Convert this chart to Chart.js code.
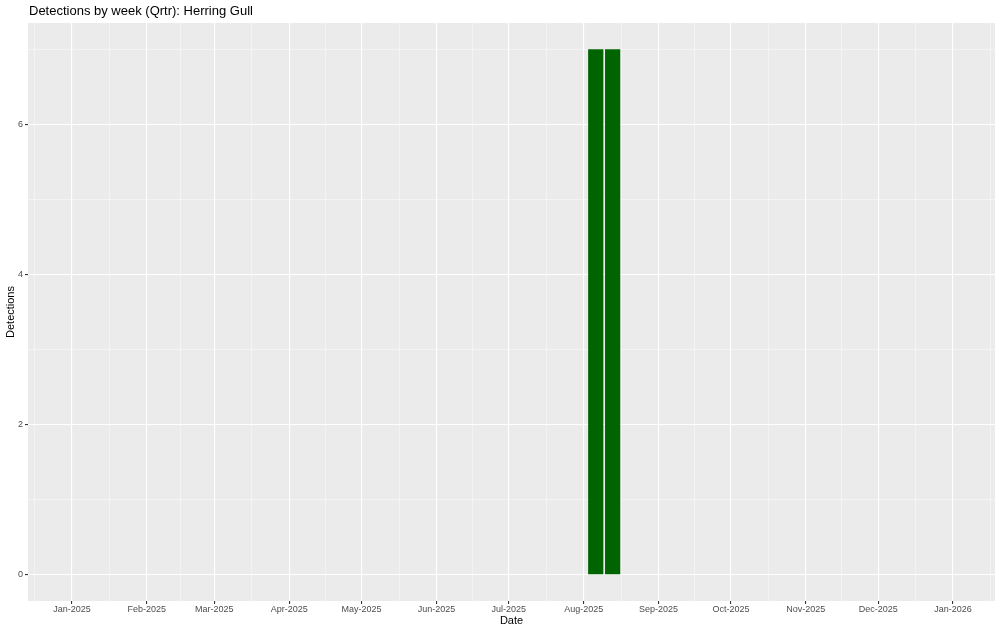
<!DOCTYPE html>
<html>
<head>
<meta charset="utf-8">
<script src="https://cdn.jsdelivr.net/npm/chart.js@4/dist/chart.umd.min.js"></script>
<style>
  html, body { margin: 0; padding: 0; background: #ffffff; }
  #wrap { width: 1000px; height: 632px; position: relative; }
</style>
</head>
<body>
<div id="wrap"><canvas id="detChart" width="1000" height="632"></canvas></div>
<script>
// data
const chartTitle = 'Detections by week (Qrtr): Herring Gull';
const weekDates = ['2025-08-06', '2025-08-13'];
const detections = [7, 7];
const monthStarts = ['2025-01-01', '2025-02-01', '2025-03-01', '2025-04-01', '2025-05-01', '2025-06-01',
                     '2025-07-01', '2025-08-01', '2025-09-01', '2025-10-01', '2025-11-01', '2025-12-01', '2026-01-01'];
const monthLabels = ['Jan-2025', 'Feb-2025', 'Mar-2025', 'Apr-2025', 'May-2025', 'Jun-2025',
                     'Jul-2025', 'Aug-2025', 'Sep-2025', 'Oct-2025', 'Nov-2025', 'Dec-2025', 'Jan-2026'];
const yTicks = [0, 2, 4, 6];

// days since 1 Jan 2025
function dayNum(s) {
    const p = s.split('-').map(Number);
    return (Date.UTC(p[0], p[1] - 1, p[2]) - Date.UTC(2025, 0, 1)) / 864e5;
}

const monthPos = monthStarts.map(dayNum);
const labelByPos = {};
monthPos.forEach((v, i) => { labelByPos[v] = monthLabels[i]; });

function xTickList() {
    const t = [];
    monthPos.forEach((v, i) => {
        t.push({ value: v, major: true });
        if (i < monthPos.length - 1) t.push({ value: (v + monthPos[i + 1]) / 2, major: false });
    });
    // minor lines outside the first/last break
    t.unshift({ value: monthPos[0] - (monthPos[1] - monthPos[0]) / 2, major: false });
    t.push({ value: monthPos[monthPos.length - 1] + 15.5, major: false });
    return t;
}

function yTickList() {
    const t = [];
    yTicks.forEach(v => {
        t.push({ value: v, major: true });
        t.push({ value: v + 1, major: false });
    });
    return t;
}

const panelBg = {
    id: 'panelBg',
    beforeDraw(chart) {
        const a = chart.chartArea, c = chart.ctx;
        c.save();
        c.fillStyle = '#ebebeb';
        c.fillRect(a.left, a.top, a.right - a.left, a.bottom - a.top);
        c.restore();
    },
    afterDraw(chart) {
        const c = chart.ctx;
        c.save();
        c.fillStyle = '#000000';
        c.font = '13px "Liberation Sans", Arial, sans-serif';
        c.textBaseline = 'middle';
        c.textAlign = 'left';
        c.fillText(chartTitle, chart.chartArea.left + 1, 11);
        c.restore();
    }
};

const gridCol = ctx => ctx.tick && ctx.tick.major ? '#ffffff' : 'rgba(255,255,255,0.75)';
const gridW = ctx => ctx.tick && ctx.tick.major ? 1.1 : 0.55;
const tickCol = ctx => ctx.tick && ctx.tick.major ? '#333333' : 'rgba(0,0,0,0)';

new Chart(document.getElementById('detChart'), {
    type: 'bar',
    data: {
        datasets: [{
            data: weekDates.map((d, i) => ({ x: dayNum(d), y: detections[i] })),
            backgroundColor: '#006400',
            borderWidth: 0,
            barPercentage: 0.9,
            categoryPercentage: 1.0
        }]
    },
    options: {
        responsive: false,
        animation: false,
        devicePixelRatio: 1,
        layout: { padding: { left: 4, right: 5, top: 23, bottom: 0 } },
        plugins: { legend: { display: false }, tooltip: { enabled: false }, title: { display: false } },
        scales: {
            x: {
                type: 'linear',
                offset: false,
                min: -18.2,
                max: 382.4,
                afterBuildTicks: s => { s.ticks = xTickList(); },
                afterFit: s => { s.height = 31; },
                grid: { offset: false, color: gridCol, lineWidth: gridW, tickColor: tickCol, tickLength: 3, drawTicks: true },
                border: { display: false },
                ticks: {
                    autoSkip: false, maxRotation: 0, padding: 0,
                    color: '#4d4d4d',
                    font: { family: '"Liberation Sans", Arial, sans-serif', size: 9 },
                    callback: v => labelByPos[v] || ''
                },
                title: {
                    display: true, text: 'Date', color: '#000000',
                    font: { family: '"Liberation Sans", Arial, sans-serif', size: 11 },
                    padding: { top: 0, bottom: 4 }
                }
            },
            y: {
                min: -0.35,
                max: 7.35,
                afterBuildTicks: s => { s.ticks = yTickList(); },
                afterFit: s => { s.width = 24; },
                grid: { color: gridCol, lineWidth: gridW, tickColor: tickCol, tickLength: 3, drawTicks: true },
                border: { display: false },
                ticks: {
                    autoSkip: false, padding: 2,
                    color: '#4d4d4d',
                    font: { family: '"Liberation Sans", Arial, sans-serif', size: 9 },
                    callback: v => yTicks.includes(v) ? String(v) : ''
                },
                title: {
                    display: true, text: 'Detections', color: '#000000',
                    font: { family: '"Liberation Sans", Arial, sans-serif', size: 11 },
                    padding: { top: 0, bottom: 0 }
                }
            }
        }
    },
    plugins: [panelBg]
});
</script>
</body>
</html>
